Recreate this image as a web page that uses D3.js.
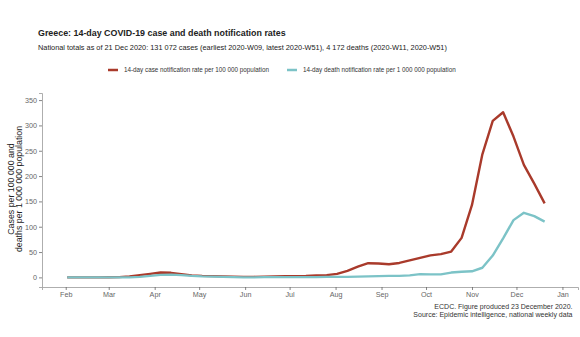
<!DOCTYPE html>
<html>
<head>
<meta charset="utf-8">
<script src="https://cdn.jsdelivr.net/npm/d3@7"></script>
<style>
  body { margin: 0; background: #fff; }
  svg text { font-family: "Liberation Sans", Arial, sans-serif; }
</style>
</head>
<body>
<div id="chart"></div>
<script>
// week-ending dates (Sundays), 2020-W05 .. 2020-W51
const weeks = [
  "2020-02-02","2020-02-09","2020-02-16","2020-02-23","2020-03-01","2020-03-08","2020-03-15",
  "2020-03-22","2020-03-29","2020-04-05","2020-04-12","2020-04-19","2020-04-26","2020-05-03",
  "2020-05-10","2020-05-17","2020-05-24","2020-05-31","2020-06-07","2020-06-14","2020-06-21",
  "2020-06-28","2020-07-05","2020-07-12","2020-07-19","2020-07-26","2020-08-02","2020-08-09",
  "2020-08-16","2020-08-23","2020-08-30","2020-09-06","2020-09-13","2020-09-20","2020-09-27",
  "2020-10-04","2020-10-11","2020-10-18","2020-10-25","2020-11-01","2020-11-08","2020-11-15",
  "2020-11-22","2020-11-29","2020-12-06","2020-12-13","2020-12-20"
];
// 14-day case notification rate per 100 000
const caseRate = [
  0, 0, 0, 0, 0.2, 0.5, 2,
  4.5, 7, 9.5, 9, 6.5, 4, 3,
  2.5, 2, 1.5, 1, 1, 1.5, 2,
  2.5, 2.5, 3, 4, 4.5, 7, 13,
  21, 28, 27.5, 26, 28.5, 33.5, 38.5,
  43.5, 46, 51, 78, 143, 243, 309,
  326, 278, 222, 185, 146
];
// 14-day death notification rate per 1 000 000
const deathRate = [
  0, 0, 0, 0, 0, 0, 0,
  1, 3, 5, 5.5, 4.5, 3, 2,
  1.5, 1, 0.5, 0, 0, 0.5, 0.5,
  0.5, 0.5, 0.5, 0.5, 1, 1, 1,
  1.5, 2, 2.5, 3, 3, 4, 6.5,
  6, 6, 9.5, 11, 12, 19, 43,
  77, 113, 127.5, 121, 110
];
const yTicks = [0, 50, 100, 150, 200, 250, 300, 350];
const seriesNames = [
  "14-day case notification rate per 100 000 population",
  "14-day death notification rate per 1 000 000 population"
];
const colors = ["#a93a2b", "#7cc3c7"];

const width = 580, height = 337;
const parse = d3.timeParse("%Y-%m-%d");
const dates = weeks.map(parse);

const svg = d3.select("#chart").append("svg")
  .attr("width", width).attr("height", height);

const x = d3.scaleTime()
  .domain([new Date(2020, 0, 16), new Date(2021, 0, 11, 12)])
  .range([42, 578]);
const y = d3.scaleLinear().domain([-19, 364]).range([287, 93]);

// title
svg.append("text").attr("x", 38).attr("y", 35.5)
  .attr("font-size", 8.9).attr("font-weight", "bold").attr("fill", "#222")
  .text("Greece: 14-day COVID-19 case and death notification rates");
svg.append("text").attr("x", 38).attr("y", 50)
  .attr("font-size", 7.35).attr("fill", "#222")
  .text("National totals as of 21 Dec 2020: 131 072 cases (earliest 2020-W09, latest 2020-W51), 4 172 deaths (2020-W11, 2020-W51)");

// legend
const legend = svg.append("g");
const legendX = [108, 287];
seriesNames.forEach((name, i) => {
  legend.append("line")
    .attr("x1", legendX[i]).attr("x2", legendX[i] + 10)
    .attr("y1", 70).attr("y2", 70)
    .attr("stroke", colors[i]).attr("stroke-width", 2.5);
  legend.append("text")
    .attr("x", legendX[i] + 16).attr("y", 72.2)
    .attr("font-size", 6.3).attr("fill", "#333")
    .text(name);
});

// axes
const xAxis = svg.append("g")
  .attr("transform", "translate(0,287)")
  .call(d3.axisBottom(x)
    .ticks(d3.timeMonth.every(1))
    .tickFormat(d3.timeFormat("%b"))
    .tickSize(3).tickPadding(2));
const yAxis = svg.append("g")
  .attr("transform", "translate(42,0)")
  .call(d3.axisLeft(y).tickValues(yTicks).tickSize(3).tickPadding(2));

[xAxis, yAxis].forEach(g => {
  g.select(".domain").attr("stroke", "#999").attr("stroke-width", 0.8);
  g.selectAll(".tick line").attr("stroke", "#666").attr("stroke-width", 0.8);
  g.selectAll(".tick text").attr("fill", "#666").attr("font-size", 7.2)
    .attr("font-family", "Liberation Sans, Arial, sans-serif");
});

// y label
const yl = svg.append("text")
  .attr("transform", "translate(15.5,189) rotate(-90)")
  .attr("text-anchor", "middle").attr("font-size", 8.8).attr("fill", "#222");
yl.append("tspan").attr("x", 0).attr("dy", -1.5).text("Cases per 100 000 and");
yl.append("tspan").attr("x", 0).attr("dy", 7.8).text("deaths per 1 000 000 population");

// lines
const line = d3.line()
  .x((d, i) => x(dates[i]))
  .y(d => y(d));
[caseRate, deathRate].forEach((vals, i) => {
  svg.append("path")
    .datum(vals)
    .attr("fill", "none")
    .attr("stroke", colors[i])
    .attr("stroke-width", 2.4)
    .attr("stroke-linejoin", "round")
    .attr("d", line);
});

// footer
const foot = svg.append("text").attr("text-anchor", "end")
  .attr("font-size", 7).attr("fill", "#333");
foot.append("tspan").attr("x", 572.5).attr("y", 308.5).text("ECDC. Figure produced 23 December 2020.");
foot.append("tspan").attr("x", 572.5).attr("y", 317).text("Source: Epidemic intelligence, national weekly data");
</script>
</body>
</html>
